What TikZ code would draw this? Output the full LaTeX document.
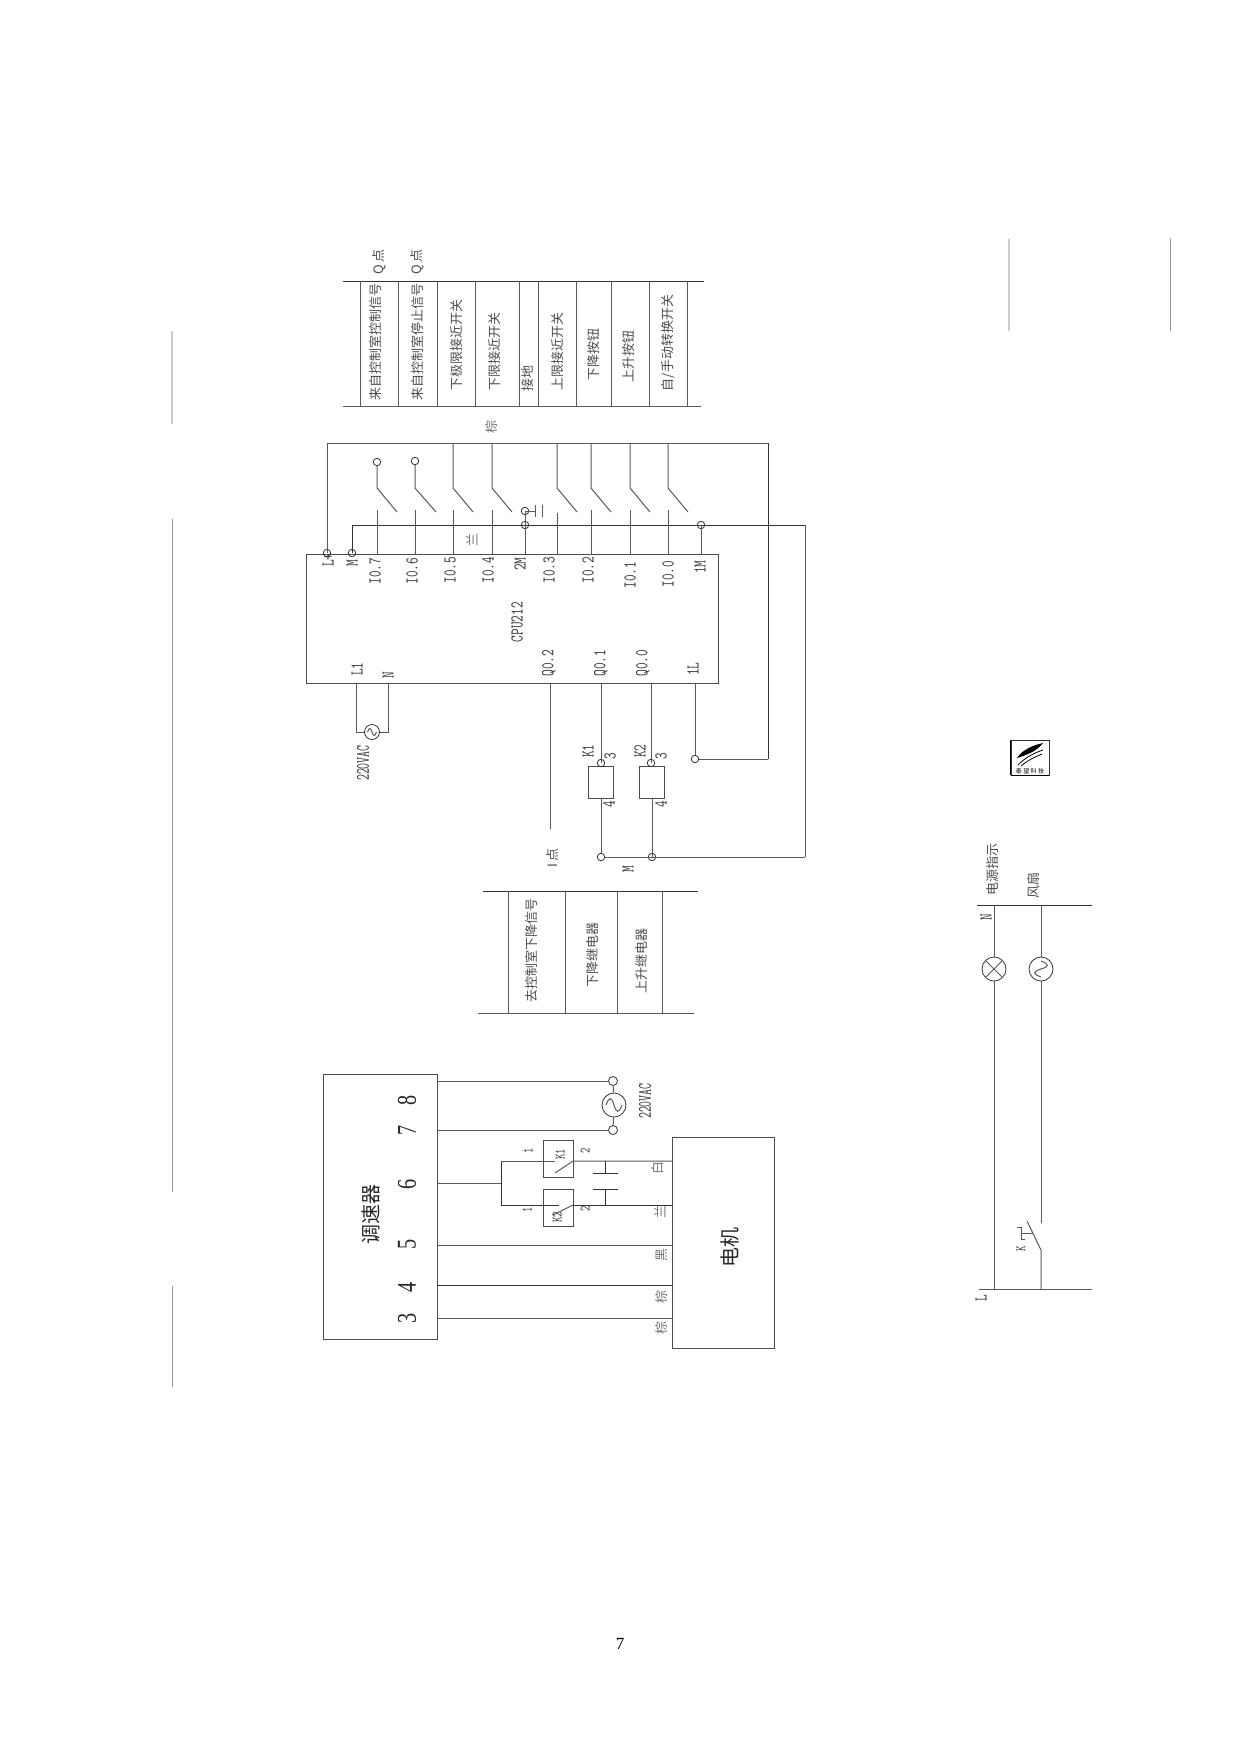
\documentclass[tikz,border=0pt]{standalone}
\usepackage{fontspec}
\newfontfamily\cjk{Noto Sans CJK SC}
\newfontfamily\numfont{Liberation Serif}
\newcommand{\sinewave}[3]{\draw[wire,shift={(#1.center)},rotate=#3] (-#2,0) .. controls ({-0.6*#2},{-1.1*#2}) and ({-0.3*#2},{-1.0*#2}) .. (0,0) .. controls ({0.3*#2},{1.0*#2}) and ({0.6*#2},{1.1*#2}) .. (#2,0);}
\begin{document}
\begin{tikzpicture}[x=1pt,y=-1pt,
wire/.style = {draw=black!65, line width=1pt},
thick wire/.style = {draw=black!80, line width=.9pt},
box/.style = {draw=black!70, line width=1pt, inner sep=0, outer sep=0},
term/.style = {draw=black!80, line width=.8pt, circle, inner sep=0, minimum size=7.5pt},
src/.style = {draw=black!80, line width=.8pt, circle, inner sep=0},
cn/.style = {rotate=90, inner sep=0, text=black!70, font=\cjk\fontsize{13}{13}\selectfont},
cnsmall/.style = {cn, text=black!55, font=\cjk\fontsize{13}{13}\selectfont},
cnbig/.style = {cn, text=black!85, font=\cjk\fontsize{20}{20}\selectfont},
pin/.style = {rotate=90, xscale=.72, inner sep=0, text=black!80, font=\ttfamily\fontsize{18}{18}\selectfont},
pinsmall/.style = {pin, font=\ttfamily\fontsize{14.5}{14.5}\selectfont},
pinnarrow/.style = {pin, xscale=.85, font=\ttfamily\fontsize{19}{19}\selectfont},
num/.style = {rotate=90, xscale=.75, inner sep=0, text=black!85, font=\numfont\fontsize{27}{27}\selectfont},
scan/.style = {draw=black!20, line width=1.5pt}]
    \useasboundingbox (0,0) rectangle (1241,1754);

    % scan marks
    \coordinate (s1) at (172,331); \coordinate (s2) at (172,424);
    \coordinate (s3) at (172,519); \coordinate (s4) at (172,1192);
    \coordinate (s5) at (172,1286); \coordinate (s6) at (172,1387);
    \coordinate (s7) at (1009,239); \coordinate (s8) at (1009,331);
    \coordinate (s9) at (1170,238); \coordinate (s10) at (1170,331);
    \draw[scan] (s1) -- (s2);
    \draw[scan, draw=black!40, line width=1pt] (s3) -- (s4);
    \draw[scan, draw=black!40, line width=1pt] (s5) -- (s6);
    \draw[scan] (s7) -- (s8);
    \draw[scan, draw=black!40, line width=1pt] (s9) -- (s10);

    % upper table
    \coordinate (ta) at (343,281); \coordinate (tb) at (704,281);
    \coordinate (ba) at (343,406); \coordinate (bb) at (701,406);
    \draw[thick wire] (ta) -- (tb);
    \draw[wire] (ba) -- (bb);
    \coordinate (v1) at (360,281); \draw[wire] (v1) -- (v1 |- ba);
    \coordinate (v2) at (398,281); \draw[wire] (v2) -- (v2 |- ba);
    \coordinate (v3) at (437,281); \draw[wire] (v3) -- (v3 |- ba);
    \coordinate (v4) at (475,281); \draw[wire] (v4) -- (v4 |- ba);
    \coordinate (v5) at (519,281); \draw[wire] (v5) -- (v5 |- ba);
    \coordinate (v6) at (538,281); \draw[wire] (v6) -- (v6 |- ba);
    \coordinate (v7) at (576,281); \draw[wire] (v7) -- (v7 |- ba);
    \coordinate (v8) at (611,281); \draw[wire] (v8) -- (v8 |- ba);
    \coordinate (v9) at (649,281); \draw[wire] (v9) -- (v9 |- ba);
    \coordinate (v10) at (687,281); \draw[wire] (v10) -- (v10 |- ba);

    \node[cn] (q1) at (379,262) {Q\,点};
    \node[cn] (q2) at (417,262) {Q\,点};
    \node[cn] (t1) at (376,342) {来自控制室控制信号};
    \node[cn] (t2) at (418,342) {来自控制室停止信号};
    \node[cn] (t3) at (457,345) {下极限接近开关};
    \node[cn] (t4) at (495,351) {下限接近开关};
    \node[cn] (t5) at (528,378) {接地};
    \node[cn] (t6) at (558,351) {上限接近开关};
    \node[cn] (t7) at (594,354) {下降按钮};
    \node[cn] (t8) at (629,356) {上升按钮};
    \node[cn] (t9) at (668,343) {自/手动转换开关};
    \node[cnsmall] (brown) at (492,427) {棕};
    \node[cnsmall] (blue) at (472,540) {兰};

    % cpu
    \node[box, minimum width=412pt, minimum height=129pt] (cpu) at (512,618.5) {};
    \node[pin] (lplus) at (328,560) {L+};
    \node[pin] (lm) at (352,563) {M};
    \node[pin] (l7) at (375,571) {I0.7};
    \node[pin] (l6) at (412,571) {I0.6};
    \node[pin] (l5) at (450,570) {I0.5};
    \node[pin] (l4) at (488,570) {I0.4};
    \node[pin] (l2m) at (520,564) {2M};
    \node[pin] (l3) at (549,570) {I0.3};
    \node[pin] (l2) at (588,570) {I0.2};
    \node[pin] (l1) at (630,575) {I0.1};
    \node[pin] (l0) at (668,574) {I0.0};
    \node[pin] (l1m) at (700,567) {1M};
    \node[pin] (cputxt) at (517,622) {CPU212};
    \node[pin] (lq2) at (549,663) {Q0.2};
    \node[pin] (lq1) at (601,663) {Q0.1};
    \node[pin] (lq0) at (643,663) {Q0.0};
    \node[pin] (l1l) at (693,669) {1L};
    \node[pin] (lL1) at (357,669) {L1};
    \node[pin] (lN) at (388,675) {N};

    % input side
    \coordinate (rowA) at (0,510);
    \coordinate (rowB) at (0,488);
    \coordinate (rowC) at (0,443);
    \coordinate (rowD) at (0,525);
    \node[term] (lpt) at (327,553) {};
    \node[term] (mpt) at (352,553) {};
    \coordinate (busa) at (327,443);
    \coordinate (busb) at (768,443);
    \draw[wire] (lpt.center) -- (busa) -- (busb);
    \coordinate (busm) at (805,525);
    \draw[thick wire] (mpt.center) -- (mpt |- rowD) -- (busm);

    \coordinate (i7) at (377,554); \node[term] (o7) at (377,462) {};
    \draw[wire] (i7) -- (i7 |- rowA); \draw[wire] (o7) -- (i7 |- rowB) -- ++(20,24);
    \coordinate (i6) at (415,554); \node[term] (o6) at (415,461) {};
    \draw[wire] (i6) -- (i6 |- rowA); \draw[wire] (o6) -- (i6 |- rowB) -- ++(21,24);
    \coordinate (i5) at (453,554);
    \draw[wire] (i5) -- (i5 |- rowA); \draw[wire] (i5 |- rowC) -- (i5 |- rowB) -- ++(20,24);
    \coordinate (i4) at (492,554);
    \draw[wire] (i4) -- (i4 |- rowA); \draw[wire] (i4 |- rowC) -- (i4 |- rowB) -- ++(20,24);
    \coordinate (i3) at (557,554);
    \draw[wire] (i3) -- (557,513); \draw[wire] (i3 |- rowC) -- (i3 |- rowB) -- ++(20,24);
    \coordinate (i2) at (591,554);
    \draw[wire] (i2) -- (i2 |- rowA); \draw[wire] (i2 |- rowC) -- (i2 |- rowB) -- ++(20,24);
    \coordinate (i1) at (630,554);
    \draw[wire] (i1) -- (i1 |- rowA); \draw[wire] (i1 |- rowC) -- (i1 |- rowB) -- ++(20,24);
    \coordinate (i0) at (668,554);
    \draw[wire] (i0) -- (i0 |- rowA); \draw[wire] (i0 |- rowC) -- (i0 |- rowB) -- ++(20,24);

    % 2M and earth
    \coordinate (i2m) at (525,554);
    \node[term] (n2m) at (525,525) {};
    \node[term] (earth) at (525,511) {};
    \coordinate (ea) at (535,511);
    \coordinate (e1) at (535,505); \coordinate (e2) at (535,517);
    \coordinate (e3) at (542,505); \coordinate (e4) at (542,517);
    \draw[wire] (i2m) -- (earth.center) -- (ea);
    \draw[wire] (e1) -- (e2);
    \draw[wire] (e3) -- (e4);

    % 1M
    \coordinate (i1m) at (701,554);
    \node[term] (n1m) at (701,525) {};
    \draw[wire] (i1m) -- (n1m.center);

    % supply of cpu
    \node[src, minimum size=15pt] (ac1) at (372,732) {};
    \coordinate (sl) at (356,683); \coordinate (sn) at (388,683);
    \draw[wire] (sl) -- (sl |- ac1) -- (ac1);
    \draw[wire] (sn) -- (sn |- ac1) -- (ac1);
    \sinewave{ac1}{4.5}{0}
    \node[pinnarrow] (v220a) at (363,763) {220VAC};

    % outputs
    \coordinate (q2a) at (550,683); \coordinate (q2b) at (550,829);
    \draw[wire] (q2a) -- (q2b);
    \node[cn] (ipt) at (553,858) {I\,点};

    \node[box, minimum width=25pt, minimum height=32pt] (k1) at (600.5,782) {};
    \node[box, minimum width=25pt, minimum height=32pt] (k2) at (651.5,782) {};
    \coordinate (q1a) at (601,683);
    \coordinate (q0a) at (651,683);
    \node[term] (k1t) at (601,763) {};
    \node[term] (k2t) at (651,763) {};
    \node[term] (k1b) at (601,857) {};
    \node[term] (k2b) at (652,857) {};
    \draw[wire] (q1a) -- (k1t.center);
    \draw[wire] (q0a) -- (k2t.center);
    \draw[wire] (k1.south -| k1b) -- (k1b);
    \draw[wire] (k2.south -| k2b) -- (k2b.center);
    \coordinate (mr) at (805,857);
    \draw[wire] (k1b) -- (k2b.center) -- (mr);
    \draw[wire] (mr) -- (busm);
    \node[pin] (lk1) at (588,751) {K1};
    \node[pin] (lk2) at (640,751) {K2};
    \node[pin] (lk13) at (610,756) {3};
    \node[pin] (lk23) at (661,756) {3};
    \node[pin] (lk14) at (609,804) {4};
    \node[pin] (lk24) at (661,804) {4};
    \node[pin] (lm2) at (628,869) {M};

    \coordinate (oneL) at (695,683);
    \node[term] (ll) at (695,759) {};
    \coordinate (lr) at (768,759);
    \draw[wire] (oneL) -- (ll);
    \draw[wire] (ll) -- (lr);
    \draw[thick wire] (lr) -- (busb);

    % lower table
    \coordinate (ua) at (483,891); \coordinate (ub) at (698,891);
    \coordinate (da) at (478,1013); \coordinate (db) at (694,1013);
    \draw[thick wire] (ua) -- (ub);
    \draw[wire] (da) -- (db);
    \coordinate (u1) at (508,891); \draw[wire] (u1) -- (u1 |- da);
    \coordinate (u2) at (565,891); \draw[wire] (u2) -- (u2 |- da);
    \coordinate (u3) at (617,891); \draw[wire] (u3) -- (u3 |- da);
    \coordinate (u4) at (662,891); \draw[wire] (u4) -- (u4 |- da);
    \node[cn] (d1) at (532,950) {去控制室下降信号};
    \node[cn] (d2) at (593,955) {下降继电器};
    \node[cn] (d3) at (642,961) {上升继电器};

    % governor and motor
    \node[box, minimum width=114pt, minimum height=265pt] (gov) at (380,1207) {};
    \node[cnbig] (govtxt) at (371,1214) {调速器};
    \node[num] (p8) at (407,1100) {8};
    \node[num] (p7) at (407,1130) {7};
    \node[num] (p6) at (407,1184) {6};
    \node[num] (p5) at (407,1244) {5};
    \node[num] (p4) at (407,1287) {4};
    \node[num] (p3) at (407,1318) {3};

    \node[box, minimum width=102pt, minimum height=211pt] (motor) at (723,1243) {};
    \node[cnbig] (mtxt) at (730,1247) {电机};

    \node[term, minimum size=9pt] (c8) at (613,1081) {};
    \node[term, minimum size=9pt] (c7) at (613,1130) {};
    \node[src, minimum size=24pt] (ac2) at (614,1105) {};
    \sinewave{ac2}{8}{0}
    \coordinate (g8) at (437,1081); \coordinate (g7) at (437,1130);
    \draw[wire] (g8) -- (c8);
    \draw[wire] (g7) -- (c7);
    \draw[wire] (c8) -- (ac2);
    \draw[wire] (ac2) -- (c7);
    \node[pinnarrow] (v220b) at (645,1101) {220VAC};

    \coordinate (g6) at (437,1183); \coordinate (j6) at (501,1183);
    \coordinate (ja) at (501,1161); \coordinate (jb) at (501,1205);
    \draw[wire] (g6) -- (j6);
    \draw[thick wire] (ja) -- (jb);

    \node[box, minimum width=30pt, minimum height=37pt] (c1) at (558,1158.5) {};
    \node[box, minimum width=30pt, minimum height=37pt] (c2) at (558,1207.5) {};
    \coordinate (sa) at (555,1161); \coordinate (sb) at (555,1173); \coordinate (sc) at (573,1161);
    \coordinate (sd) at (559,1205); \coordinate (se) at (553,1215); \coordinate (sf) at (573,1205);
    \coordinate (ma) at (672,1161); \coordinate (mb) at (672,1205);
    \draw[wire] (ja) -- (sa);
    \draw[wire] (sb) -- (sc) -- (ma);
    \draw[thick wire] (jb) -- (sd);
    \draw[wire] (se) -- (sf);
    \draw[thick wire] (sf) -- (mb);
    \node[pinsmall] (ck1) at (560,1154) {K1};
    \node[pinsmall] (ck2) at (557,1217) {K2};
    \node[pinsmall] (c11) at (528,1151) {1};
    \node[pinsmall] (c12) at (585,1151) {2};
    \node[pinsmall] (c21) at (527,1210) {1};
    \node[pinsmall] (c22) at (585,1209) {2};

    % capacitor
    \coordinate (ca) at (605,1161); \coordinate (cb) at (605,1173);
    \coordinate (cc) at (605,1189); \coordinate (cd) at (605,1205);
    \coordinate (p1) at (593,1173); \coordinate (p2) at (618,1173);
    \coordinate (p3) at (593,1189); \coordinate (p4) at (618,1189);
    \draw[thick wire] (ca) -- (cb);
    \draw[thick wire] (cc) -- (cd);
    \draw[thick wire] (p1) -- (p2);
    \draw[thick wire] (p3) -- (p4);

    \coordinate (g5) at (437,1245); \coordinate (m5) at (672,1245);
    \coordinate (g4) at (437,1285); \coordinate (m4) at (672,1285);
    \coordinate (g3) at (437,1318); \coordinate (m3) at (672,1318);
    \draw[wire] (g5) -- (m5);
    \draw[thick wire] (g4) -- (m4);
    \draw[wire] (g3) -- (m3);
    \node[cnsmall] (cw) at (658,1168) {白};
    \node[cnsmall] (cl) at (660,1212) {兰};
    \node[cnsmall] (cb1) at (662,1255) {黑};
    \node[cnsmall] (cb2) at (662,1297) {棕};
    \node[cnsmall] (cb3) at (662,1328) {棕};

    % logo
    \node[draw=black!80, line width=.7pt, minimum width=38pt, minimum height=35pt, inner sep=0] (logo) at (1030,757.5) {};
    \draw[line width=1.4pt] (logo.south west) -- (logo.north west);
    \draw[line width=1.4pt] (logo.south west) -- (logo.south east);
    \fill (1017,758) .. controls (1023,749) and (1034,745) .. (1043,743) .. controls (1037,751) and (1027,755) .. (1017,758);
    \draw[line width=.8pt] (1018,765) .. controls (1026,757) and (1034,753) .. (1043,750);
    \draw[line width=.8pt] (1021,766) .. controls (1028,760) and (1035,757) .. (1042,754);
    \node[inner sep=0, font=\cjk\fontsize{6}{6}\selectfont] (logotxt) at (1030,771) {泰 望 科 技};

    % right circuit
    \coordinate (na) at (977,905); \coordinate (nb) at (1092,905);
    \coordinate (la) at (979,1289); \coordinate (lb) at (1092,1289);
    \draw[thick wire] (na) -- (nb);
    \draw[wire] (la) -- (lb);
    \coordinate (n1) at (994,905); \coordinate (n2) at (994,1289);
    \coordinate (f1) at (1041,905); \coordinate (f2) at (1041,1223);
    \node[src, minimum size=24pt] (lamp) at (994,969) {};
    \node[src, minimum size=24pt] (fan) at (1041,969) {};
    \draw[wire] (n1) -- (lamp);
    \draw[wire] (lamp) -- (n2);
    \draw[wire] (lamp.north west) -- (lamp.south east);
    \draw[wire] (lamp.north east) -- (lamp.south west);
    \draw[wire] (f1) -- (fan);
    \draw[wire] (fan) -- (f2);
    \sinewave{fan}{8}{90}
    \coordinate (sw1) at (1027,1221); \coordinate (sw2) at (1041,1250); \coordinate (sw3) at (1041,1289);
    \draw[wire] (sw1) -- (sw2) -- (sw3);
    \coordinate (ka) at (1033,1233); \coordinate (kb) at (1021,1233);
    \coordinate (kc) at (1017,1227); \coordinate (kd) at (1021,1227);
    \coordinate (ke) at (1021,1239); \coordinate (kf) at (1025,1239);
    \draw[wire] (ka) -- (kb);
    \draw[wire] (kc) -- (kd) -- (ke) -- (kf);
    \node[pinsmall] (lk) at (1021,1249) {K};
    \node[cn] (lpow) at (993,869) {电源指示};
    \node[cn] (lfan) at (1034,885) {风扇};
    \node[pin] (ln) at (986,917) {N};
    \node[pin] (ll2) at (981,1298) {L};

    % page number
    \node[inner sep=0, font=\numfont\fontsize{17}{17}\selectfont] (page) at (620,1644) {7};
\end{tikzpicture}
\end{document}
